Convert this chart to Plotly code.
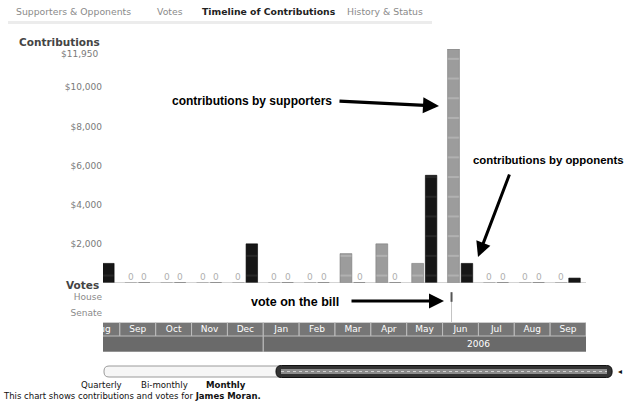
import plotly.graph_objects as go

# ---------------- data ----------------
months = ["Aug", "Sep", "Oct", "Nov", "Dec", "Jan", "Feb", "Mar", "Apr", "May", "Jun", "Jul", "Aug", "Sep"]
month_years = [2005, 2005, 2005, 2005, 2005, 2006, 2006, 2006, 2006, 2006, 2006, 2006, 2006, 2006]
supporters = [None, 0, 0, 0, 0, 0, 0, 1500, 2000, 1000, 11950, 0, 0, 0]
opponents = [1000, 0, 0, 0, 2000, 0, 0, 0, 0, 5500, 1000, 0, 0, 250]
ytick_values = [2000, 4000, 6000, 8000, 10000]
ytick_labels = ["$2,000", "$4,000", "$6,000", "$8,000", "$10,000"]
y_max = 11950
y_max_label = "$11,950"
vote_chambers = ["House"]
vote_positions = [9.75]          # month index (early June 2006)
chambers = ["House", "Senate"]
tabs = ["Supporters & Opponents", "Votes", "Timeline of Contributions", "History & Status"]
active_tab = "Timeline of Contributions"
scales = ["Quarterly", "Bi-monthly", "Monthly"]
active_scale = "Monthly"
member = "James Moran"

# ---------------- geometry helpers ----------------
W, H = 627, 404
L, R, T, B = 103, 41, 49, 52
PW, PH = W - L - R, H - T - B


def px(x):
    return (x - L) / PW


def py(y):
    return (H - B - y) / PH


idx = list(range(len(months)))
FONT = "DejaVu Sans"

fig = go.Figure()

# contributions bars
fig.add_trace(go.Bar(
    x=idx, y=supporters, width=0.33, offset=-0.36, xaxis="x", yaxis="y",
    marker=dict(color="#9c9c9c", line=dict(color="#7a7a7a", width=0.6),
                pattern=dict(shape="-", size=19.7, solidity=0.07, fgcolor="#d6d6d6")),
    name="supporters", hoverinfo="skip"))
fig.add_trace(go.Bar(
    x=idx, y=opponents, width=0.32, offset=0.02, xaxis="x", yaxis="y",
    marker=dict(color="#161616", line=dict(color="#000000", width=0.6),
                pattern=dict(shape="-", size=19.7, solidity=0.07, fgcolor="#4a4a4a")),
    name="opponents", hoverinfo="skip"))

annotations = []
# zero labels
for i in idx:
    for vals, off in ((supporters, -0.195), (opponents, 0.185)):
        if vals[i] == 0:
            annotations.append(dict(x=i + off, y=0, xref="x", yref="y", text="0",
                                    showarrow=False, yanchor="bottom", yshift=-1,
                                    font=dict(family=FONT, size=9, color="#b0b0b0")))

# top tick label (sits a little below the top of the scale)
annotations.append(dict(x=0, y=y_max, xref="paper", yref="y", xanchor="right", yanchor="middle",
                        xshift=-3, yshift=-5, showarrow=False, text=y_max_label,
                        font=dict(family=FONT, size=9, color="#7a7a7a")))

# votes panel
cpos = {c: len(chambers) - 1 - k for k, c in enumerate(chambers)}
vote_range = [-0.5625, 1.625]
for c, xv in zip(vote_chambers, vote_positions):
    fig.add_trace(go.Scatter(x=[xv, xv], y=[cpos[c] + 0.3, vote_range[0]], mode="lines",
                             line=dict(color="#c4c4c4", width=1), xaxis="x", yaxis="y2",
                             hoverinfo="skip", showlegend=False))
    fig.add_trace(go.Scatter(x=[xv, xv], y=[cpos[c] + 0.3, cpos[c] - 0.3], mode="lines",
                             line=dict(color="#555555", width=2), xaxis="x", yaxis="y2",
                             hoverinfo="skip", showlegend=False))

# month band
fig.add_trace(go.Bar(x=idx, y=[1] * len(idx), width=1, xaxis="x", yaxis="y3",
                     marker=dict(color="#767676", line=dict(color="#bdbdbd", width=1)),
                     hoverinfo="skip", showlegend=False))
fig.add_trace(go.Scatter(x=idx, y=[0.45] * len(idx), text=months, mode="text", xaxis="x", yaxis="y3",
                         textfont=dict(family=FONT, size=9, color="#ffffff"),
                         hoverinfo="skip", showlegend=False, cliponaxis=True))

# year band: each year spans Jan..Dec in month-index units
years = sorted(set(month_years))
first_last_year = month_years.index(years[-1])  # index of January of the last year
year_centers = [first_last_year + 12 * (yv - years[-1]) + 5.5 for yv in years]
fig.add_trace(go.Bar(x=year_centers, y=[1] * len(years), width=12, xaxis="x", yaxis="y4",
                     marker=dict(color="#6a6a6a", line=dict(color="#bdbdbd", width=1)),
                     hoverinfo="skip", showlegend=False))
fig.add_trace(go.Scatter(x=year_centers, y=[0.45] * len(years), text=[str(v) for v in years],
                         mode="text", xaxis="x", yaxis="y4",
                         textfont=dict(family=FONT, size=9, color="#ffffff"),
                         hoverinfo="skip", showlegend=False, cliponaxis=True))

# ---------------- text annotations ----------------
tab_x = [14, 155, 200, 345]
for t, xx in zip(tabs, tab_x):
    bold = t == active_tab
    annotations.append(dict(x=px(xx), y=py(12), xref="paper", yref="paper", xanchor="left",
                            yanchor="middle", showarrow=False,
                            text=f"<b>{t}</b>" if bold else t,
                            font=dict(family=FONT, size=9.3, color="#222222" if bold else "#8a8a8a")))

annotations.append(dict(x=px(102), y=py(42), xref="paper", yref="paper", xanchor="right",
                        yanchor="middle", showarrow=False, text="<b>Contributions</b>",
                        font=dict(family=FONT, size=10.5, color="#444444")))
annotations.append(dict(x=px(101), y=py(285), xref="paper", yref="paper", xanchor="right",
                        yanchor="middle", showarrow=False, text="<b>Votes</b>",
                        font=dict(family=FONT, size=10.5, color="#444444")))

CALL = dict(family="Liberation Sans", size=12, color="#000000")
annotations.append(dict(x=px(170), y=py(101), xref="paper", yref="paper", xanchor="left",
                        yanchor="middle", showarrow=False, text="<b>contributions by supporters</b>",
                        font=CALL))
annotations.append(dict(x=px(439), y=py(106), xref="paper", yref="paper", ax=-101, ay=-5,
                        text="", showarrow=True, arrowhead=2, arrowsize=1, arrowwidth=3.2,
                        arrowcolor="#000000"))
annotations.append(dict(x=px(626), y=py(160), xref="paper", yref="paper", xanchor="right",
                        yanchor="middle", showarrow=False, text="<b>contributions by opponents</b>",
                        font=dict(family="Liberation Sans", size=11.4, color="#000000")))
annotations.append(dict(x=px(478), y=py(257), xref="paper", yref="paper", ax=32, ay=-84,
                        text="", showarrow=True, arrowhead=2, arrowsize=1, arrowwidth=3,
                        arrowcolor="#000000"))
annotations.append(dict(x=px(249), y=py(302), xref="paper", yref="paper", xanchor="left",
                        yanchor="middle", showarrow=False, text="<b>vote on the bill</b>",
                        font=dict(family="Liberation Sans", size=12.5, color="#000000")))
annotations.append(dict(x=px(444), y=py(301), xref="paper", yref="paper", ax=-94, ay=0,
                        text="", showarrow=True, arrowhead=2, arrowsize=1, arrowwidth=3,
                        arrowcolor="#000000"))

# time-scale links and caption
scale_x = [79, 139, 204]
for s, xx in zip(scales, scale_x):
    bold = s == active_scale
    annotations.append(dict(x=px(xx), y=py(385), xref="paper", yref="paper", xanchor="left",
                            yanchor="middle", showarrow=False,
                            text=f"<b>{s}</b>" if bold else s,
                            font=dict(family=FONT, size=8.6, color="#111111")))
annotations.append(dict(x=px(1), y=py(396), xref="paper", yref="paper", xanchor="left",
                        yanchor="middle", showarrow=False,
                        text=f"This chart shows contributions and votes for <b>{member}.</b>",
                        font=dict(family=FONT, size=8.5, color="#111111")))
annotations.append(dict(x=px(620), y=py(371), xref="paper", yref="paper", xanchor="center",
                        yanchor="middle", showarrow=False, text="◂",
                        font=dict(family=FONT, size=8, color="#111111")))

# ---------------- shapes ----------------
shapes = []
shapes.append(dict(type="line", xref="paper", yref="y", x0=0, x1=1, y0=0, y1=0,
                   line=dict(color="#a8a8a8", width=1)))
shapes.append(dict(type="rect", xref="paper", yref="paper", x0=px(8), x1=px(432), y0=py(24),
                   y1=py(21), line=dict(width=0), fillcolor="#ececec", layer="below"))


def rounded(x0, x1, y0, y1, r):
    pts = [
        f"M{px(x0 + r)},{py(y0)}", f"L{px(x1 - r)},{py(y0)}",
        f"Q{px(x1)},{py(y0)} {px(x1)},{py(y0 + r)}", f"L{px(x1)},{py(y1 - r)}",
        f"Q{px(x1)},{py(y1)} {px(x1 - r)},{py(y1)}", f"L{px(x0 + r)},{py(y1)}",
        f"Q{px(x0)},{py(y1)} {px(x0)},{py(y1 - r)}", f"L{px(x0)},{py(y0 + r)}",
        f"Q{px(x0)},{py(y0)} {px(x0 + r)},{py(y0)}", "Z"]
    return " ".join(pts)


shapes.append(dict(type="path", xref="paper", yref="paper", path=rounded(104, 612, 366, 377, 5),
                   fillcolor="#f6f6f6", line=dict(color="#9a9a9a", width=1)))
shapes.append(dict(type="path", xref="paper", yref="paper", path=rounded(276, 612, 365.5, 377.5, 5.5),
                   fillcolor="#333333", line=dict(color="#111111", width=1)))
shapes.append(dict(type="rect", xref="paper", yref="paper", x0=px(281), x1=px(607), y0=py(369),
                   y1=py(374), fillcolor="#8c8c8c", line=dict(width=0)))
shapes.append(dict(type="line", xref="paper", yref="paper", x0=px(281), x1=px(607), y0=py(371.5),
                   y1=py(371.5), line=dict(color="#cfcfcf", width=1, dash="dot")))

# ---------------- layout ----------------
fig.update_layout(
    width=W, height=H,
    margin=dict(l=L, r=R, t=T, b=B),
    paper_bgcolor="#ffffff", plot_bgcolor="#ffffff",
    barmode="overlay", showlegend=False,
    font=dict(family=FONT, size=9, color="#777777"),
    xaxis=dict(domain=[0, 1], range=[0.03, 13.5], showticklabels=False, showgrid=False,
               zeroline=False, showline=False, ticks="", fixedrange=True, anchor="y4"),
    yaxis=dict(domain=[py(283), 1], range=[0, y_max], tickvals=ytick_values, ticktext=ytick_labels,
               showgrid=False, zeroline=False, showline=False, ticks="",
               tickfont=dict(family=FONT, size=9, color="#7a7a7a"), fixedrange=True),
    yaxis2=dict(domain=[py(322), py(287)], range=vote_range,
                tickvals=[cpos[c] for c in chambers], ticktext=chambers,
                showgrid=False, zeroline=False, showline=False, ticks="",
                tickfont=dict(family=FONT, size=9, color="#8a8a8a"), fixedrange=True),
    yaxis3=dict(domain=[py(336), py(322.5)], range=[0, 1], showticklabels=False, showgrid=False,
                zeroline=False, showline=False, ticks="", fixedrange=True),
    yaxis4=dict(domain=[py(352), py(336)], range=[0, 1], showticklabels=False, showgrid=False,
                zeroline=False, showline=False, ticks="", fixedrange=True),
    annotations=annotations,
    shapes=shapes,
)

fig.write_html("out.html", config={"displayModeBar": False},
               post_script="document.body.style.margin='0px';document.body.style.overflow='hidden';")
